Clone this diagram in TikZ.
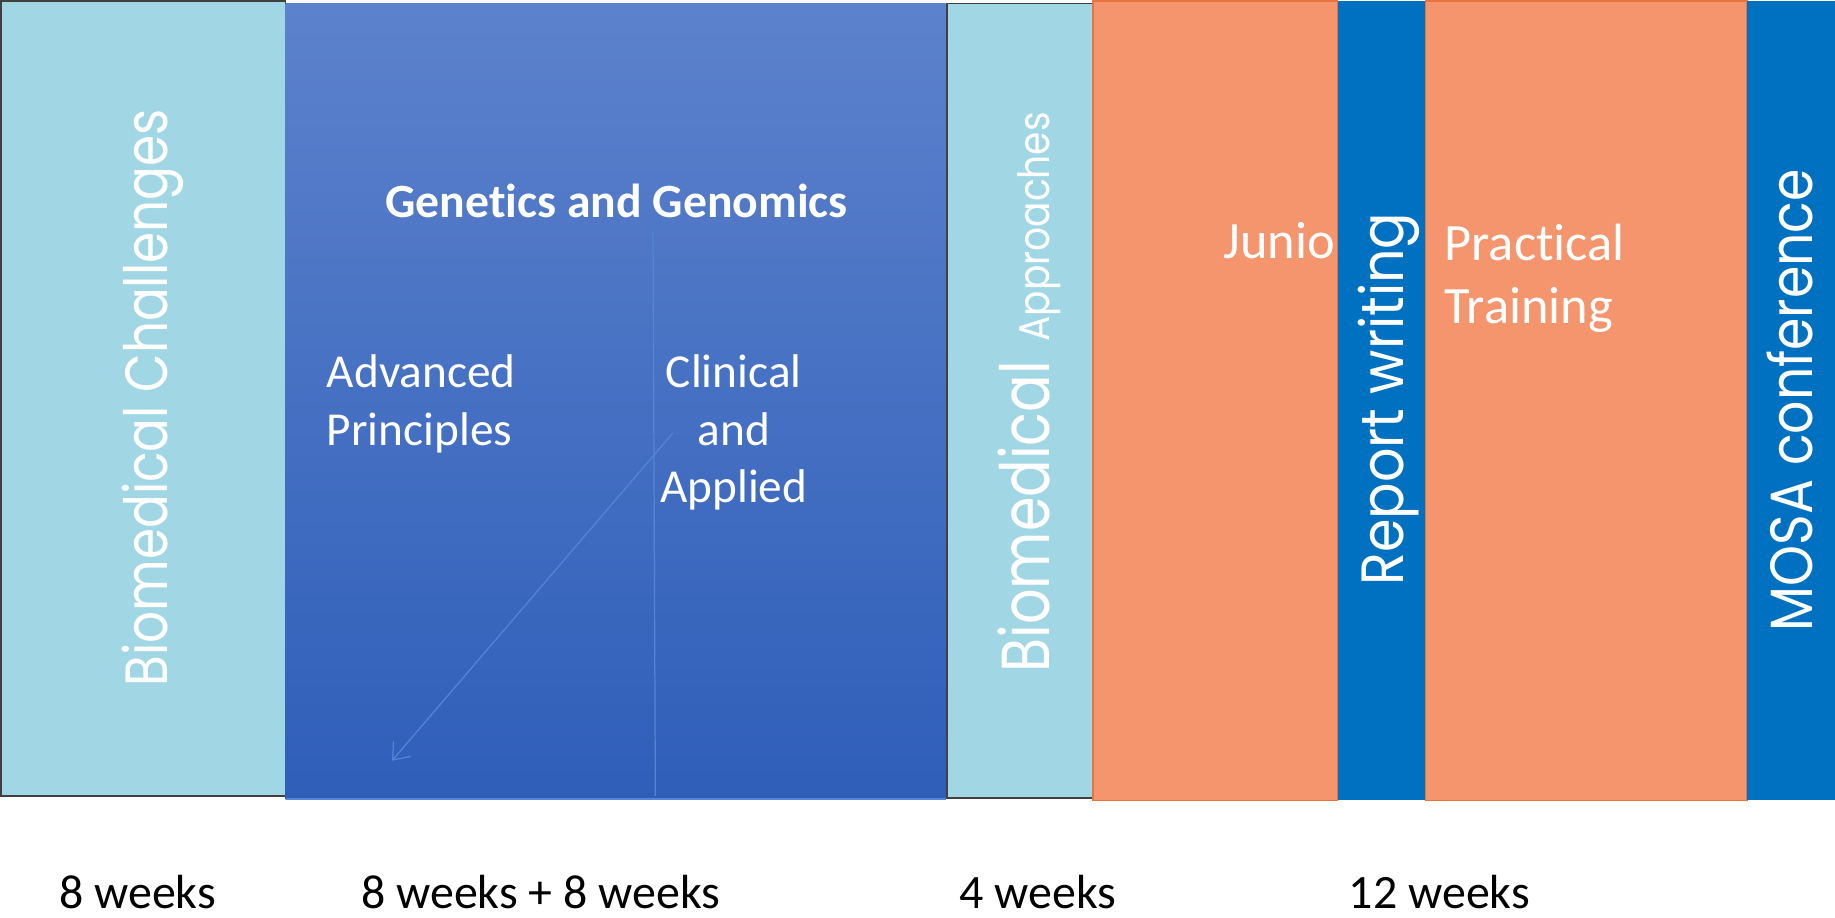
\documentclass[tikz,border=0pt]{standalone}
\usepackage{graphicx}
\usepackage{fontspec}
\setmainfont{Carlito}[Ligatures=NoCommon]
\newfontfamily\gothic{Poppins}
\usetikzlibrary{arrows.meta}
\definecolor{paleblue}{HTML}{A1D7E4}
\definecolor{peach}{HTML}{F4956D}
\definecolor{peachedge}{HTML}{EA7440}
\definecolor{deepblue}{HTML}{0070C0}
\definecolor{gradtop}{HTML}{5C82CC}
\definecolor{gradbot}{HTML}{2F5EB9}
\definecolor{faintblue}{HTML}{5585D6}
\begin{document}
\begin{tikzpicture}[x=0.02cm,y=-0.02cm,
    vlabel/.style={text=white,rotate=90,anchor=base,inner sep=0pt,
      font=\gothic\fontsize{29}{33}\selectfont},
    inlabel/.style={text=white,inner sep=0pt,font=\fontsize{23}{28}\selectfont},
    weeks/.style={anchor=base,inner sep=0pt,font=\fontsize{23.3}{28}\selectfont},
    faint/.style={draw=faintblue,line width=0.6pt}]
  \useasboundingbox (0,0) rectangle (1568,784);
  % blocks
  \filldraw[fill=paleblue,draw=black!75,line width=0.8pt] (1,1) rectangle (244,680);
  \shade[top color=gradtop,bottom color=gradbot] (244,3) rectangle (808,683);
  \draw[faintblue,line width=0.8pt] (244,683) -- (808,683);
  \filldraw[fill=paleblue,draw=black!75,line width=0.8pt] (809,3) rectangle (934,682);
  \filldraw[fill=peach,draw=peachedge,line width=0.8pt] (934,1) rectangle (1143,684);
  \filldraw[fill=peach,draw=peachedge,line width=0.8pt] (1218,1) rectangle (1493,684);
  \fill[deepblue] (1143,1) rectangle (1218,684);
  \fill[deepblue] (1493,1) rectangle (1568,684);
  % split and arrow
  \coordinate (splittop) at (558,198);
  \coordinate (splitbot) at (560,680);
  \coordinate (arrtail) at (575,370);
  \coordinate (arrhead) at (335,650);
  \begin{scope}[faint]
    \draw (splittop) to (splitbot);
    \draw[-{Straight Barb[length=7pt,width=11pt]}] (arrtail) to (arrhead);
  \end{scope}
  % texts
  \node[vlabel] (bc) at (143,340) {\scalebox{0.84}[1]{Biomedical Challenges}};
  \node[inlabel,font=\bfseries\fontsize{23.2}{28}\selectfont] (gg) at (527,172) {Genetics and Genomics};
  \node[inlabel,align=left,anchor=north west] (ap) at (279,303) {Advanced\\Principles};
  \node[inlabel,align=center,anchor=north] (ca) at (627,303) {Clinical\\and\\Applied};
  \node[vlabel,anchor=base west,font=\gothic\fontsize{33}{38}\selectfont] (ba) at (897,575)
    {\scalebox{0.82}[1]{Biomedical}};
  \node[vlabel,anchor=base east,font=\gothic\fontsize{21}{25}\selectfont] (bap) at (897,95.5)
    {\scalebox{0.87}[1]{Approaches}};
  \node[inlabel,font=\fontsize{25.5}{30.8}\selectfont,anchor=base east] (jn) at (1141,221) {Junio};
  \node[inlabel,font=\fontsize{25.5}{30.8}\selectfont,align=left,anchor=north west] (pt) at (1234,191) {Practical\\Training};
  \node[vlabel] (rw) at (1199,341) {\scalebox{0.905}[1]{Report writing}};
  \node[vlabel] (mc) at (1549,342) {\scalebox{0.874}[1]{MOSA conference}};
  \node[weeks] (w1) at (117.5,776) {8 weeks};
  \node[weeks] (w2) at (462,776) {8 weeks + 8 weeks};
  \node[weeks] (w3) at (887,776) {4 weeks};
  \node[weeks] (w4) at (1230,776) {12 weeks};
\end{tikzpicture}
\end{document}
